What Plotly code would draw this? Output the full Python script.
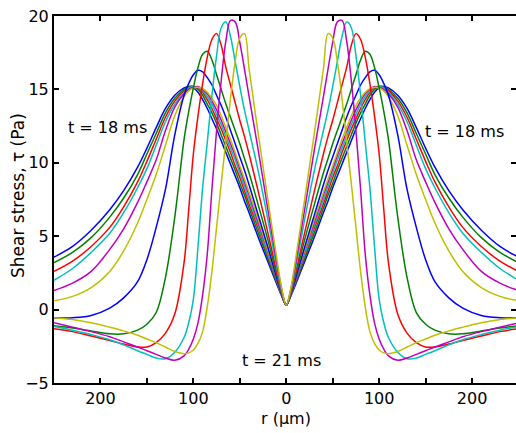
import plotly.graph_objects as go

# radial positions (um) at which the right half is sampled; left half is the mirror image
R = [0, 5, 10, 20, 30, 40, 45, 50, 55, 60, 65, 70, 75, 80, 85, 90, 95, 100, 105, 110,
     120, 130, 140, 150, 160, 175, 190, 210, 230, 250]

# shear stress (Pa), from t = 18 ms (broad) to t = 21 ms (narrow)
TAU_01 = [0.3, 0.95, 1.7, 3.3, 4.9, 6.6, 7.4, 8.3, 9.1, 9.9, 10.7, 11.5, 12.3, 13.0, 13.7, 14.3, 14.8, 15.1, 15.2, 15.1,
          14.6, 13.7, 12.4, 11.0, 9.7, 8.1, 6.8, 5.4, 4.3, 3.57]
TAU_02 = [0.3, 1.0, 1.8, 3.5, 5.2, 6.9, 7.8, 8.6, 9.5, 10.3, 11.1, 11.9, 12.7, 13.4, 14.0, 14.6, 15.0, 15.2, 15.2, 15.0,
          14.4, 13.4, 12.0, 10.6, 9.2, 7.6, 6.3, 4.9, 3.9, 3.2]
TAU_03 = [0.3, 1.0, 1.9, 3.7, 5.5, 7.2, 8.1, 9.0, 9.8, 10.7, 11.5, 12.3, 13.0, 13.7, 14.3, 14.8, 15.1, 15.2, 15.1, 14.9,
          14.2, 13.1, 11.6, 10.1, 8.7, 7.0, 5.6, 4.3, 3.3, 2.6]
TAU_04 = [0.3, 1.0, 1.95, 3.8, 5.7, 7.5, 8.4, 9.3, 10.2, 11.0, 11.8, 12.6, 13.3, 14.0, 14.5, 14.9, 15.15, 15.2, 15.1, 14.8,
          14.0, 12.8, 11.2, 9.6, 8.3, 6.6, 5.2, 3.9, 2.8, 2.0]
TAU_05 = [0.3, 1.05, 2.0, 4.0, 5.9, 7.8, 8.7, 9.6, 10.5, 11.3, 12.1, 12.9, 13.6, 14.2, 14.7, 15.0, 15.2, 15.15, 15.0, 14.7,
          13.8, 12.2, 10.2, 8.7, 7.3, 5.5, 4.1, 2.6, 1.8, 1.3]
TAU_06 = [0.3, 1.1, 2.1, 4.1, 6.1, 8.0, 8.9, 9.8, 10.7, 11.6, 12.4, 13.2, 13.9, 14.4, 14.8, 15.05, 15.15, 15.1, 14.9, 14.5,
          13.2, 11.2, 9.2, 7.5, 5.9, 4.0, 2.6, 1.5, 0.9, 0.6]
TAU_07 = [0.3, 1.05, 2.1, 4.3, 6.4, 8.5, 9.5, 10.4, 11.3, 12.2, 13.1, 13.9, 14.6, 15.3, 15.8, 16.2, 16.3, 16.0, 15.4, 14.6,
          11.9, 8.2, 5.6, 3.4, 1.9, 0.8, 0.1, -0.4, -0.55, -0.57]
TAU_08 = [0.3, 1.1, 2.3, 4.8, 7.1, 9.3, 10.3, 11.3, 12.2, 13.1, 14.0, 15.0, 16.0, 17.0, 17.6, 17.4, 16.5, 15.1, 13.5, 11.6,
          6.3, 2.2, -0.2, -1.0, -1.4, -1.65, -1.65, -1.45, -1.25, -1.1]
TAU_09 = [0.3, 1.2, 2.5, 5.3, 8.0, 10.6, 11.8, 12.9, 14.1, 15.3, 16.5, 18.0, 18.8, 18.4, 17.2, 15.4, 13.2, 10.6, 6.8, 3.2,
          -0.3, -1.6, -2.25, -2.55, -2.55, -2.35, -2.1, -1.8, -1.5, -1.3]
TAU_10 = [0.3, 1.3, 2.8, 6.2, 9.4, 12.2, 13.6, 15.2, 16.9, 18.6, 19.6, 19.2, 17.3, 14.6, 11.4, 8.3, 4.3, 0.7, -0.9, -1.9,
          -2.9, -3.35, -3.3, -3.05, -2.8, -2.4, -2.05, -1.7, -1.4, -1.15]
TAU_11 = [0.3, 1.4, 3.1, 6.9, 10.8, 14.5, 16.4, 18.2, 19.6, 19.7, 18.3, 15.6, 12.2, 8.2, 3.8, 1.0, -0.9, -2.0, -2.7, -3.15,
          -3.45, -3.3, -3.05, -2.8, -2.55, -2.2, -1.85, -1.5, -1.2, -0.9]
TAU_12 = [0.3, 1.5, 3.4, 7.6, 11.9, 16.4, 18.8, 18.5, 16.9, 14.4, 11.5, 8.6, 5.6, 2.6, 0.2, -1.5, -2.3, -2.75, -2.95, -3.0,
          -2.85, -2.55, -2.25, -2.0, -1.75, -1.45, -1.2, -0.9, -0.68, -0.55]

SERIES = [TAU_01, TAU_02, TAU_03, TAU_04, TAU_05, TAU_06,
          TAU_07, TAU_08, TAU_09, TAU_10, TAU_11, TAU_12]
COLORS = ["#0000ff", "#008000", "#ff0000", "#00bfbf", "#bf00bf", "#bfbf00"]

X_RANGE = [-250, 247.3]
Y_RANGE = [-5, 20]
X_TICKS = [-200, -150, -100, -50, 0, 50, 100, 150, 200]
X_TICKTEXT = ["200", "", "100", "", "0", "", "100", "", "200"]
Y_TICKS = [-5, 0, 5, 10, 15, 20]

FONT = "DejaVu Sans"

fig = go.Figure()
for i, tau in enumerate(SERIES):
    xs = [-r for r in reversed(R)] + R[1:]
    ys = list(reversed(tau)) + tau[1:]
    fig.add_trace(go.Scatter(
        x=xs, y=ys, mode="lines",
        line=dict(color=COLORS[i % 6], width=1.5, shape="spline", smoothing=1.0),
        showlegend=False, hoverinfo="skip"))

# invisible trace to host the top / right tick axes (box frame)
fig.add_trace(go.Scatter(x=[None], y=[None], xaxis="x2", yaxis="y2",
                         showlegend=False, hoverinfo="skip"))

PLOT_W = 462
PLOT_H = 367

tick_style = dict(ticks="inside", ticklen=5, tickwidth=1.5, tickcolor="black",
                  showgrid=False, zeroline=False)

fig.update_layout(
    width=516, height=433,
    margin=dict(l=54, r=0, t=16, b=50),
    paper_bgcolor="white", plot_bgcolor="white",
    font=dict(family=FONT, size=16, color="black"),
    xaxis=dict(range=X_RANGE, tickvals=X_TICKS, ticktext=X_TICKTEXT,
               showline=True, linewidth=2, linecolor="black",
               tickfont=dict(size=16), ticklabeloverflow="allow", **tick_style),
    yaxis=dict(range=Y_RANGE, tickvals=Y_TICKS,
               showline=True, linewidth=2, linecolor="black",
               tickfont=dict(size=16), ticklabeloverflow="allow", **tick_style),
    xaxis2=dict(range=X_RANGE, tickvals=X_TICKS, overlaying="x", side="top", anchor="y2",
                showline=True, linewidth=2, linecolor="black",
                showticklabels=False, **tick_style),
    yaxis2=dict(range=Y_RANGE, tickvals=Y_TICKS, overlaying="y", side="right", anchor="x2",
                showline=False, showticklabels=False, **tick_style),
    annotations=[
        dict(text="t = 18 ms", x=-192.5, y=12.4, xref="x", yref="y", showarrow=False,
             font=dict(size=16)),
        dict(text="t = 18 ms", x=192, y=12.1, xref="x", yref="y", showarrow=False,
             font=dict(size=16)),
        dict(text="t = 21 ms", x=-5, y=-3.5, xref="x", yref="y", showarrow=False,
             font=dict(size=16)),
        dict(text="Shear stress, τ (Pa)", textangle=-90, xref="paper", yref="paper",
             x=(18 - 54) / PLOT_W, y=(383 - 196) / PLOT_H, xanchor="center", yanchor="middle",
             showarrow=False, font=dict(size=17)),
        dict(text="r (μm)", xref="paper", yref="paper",
             x=(286 - 54) / PLOT_W, y=(383 - 418) / PLOT_H, xanchor="center", yanchor="middle",
             showarrow=False, font=dict(size=16)),
    ],
)

fig.write_html("out.html", config={"displayModeBar": False},
               post_script="document.body.style.margin='0px';document.body.style.padding='0px';")
